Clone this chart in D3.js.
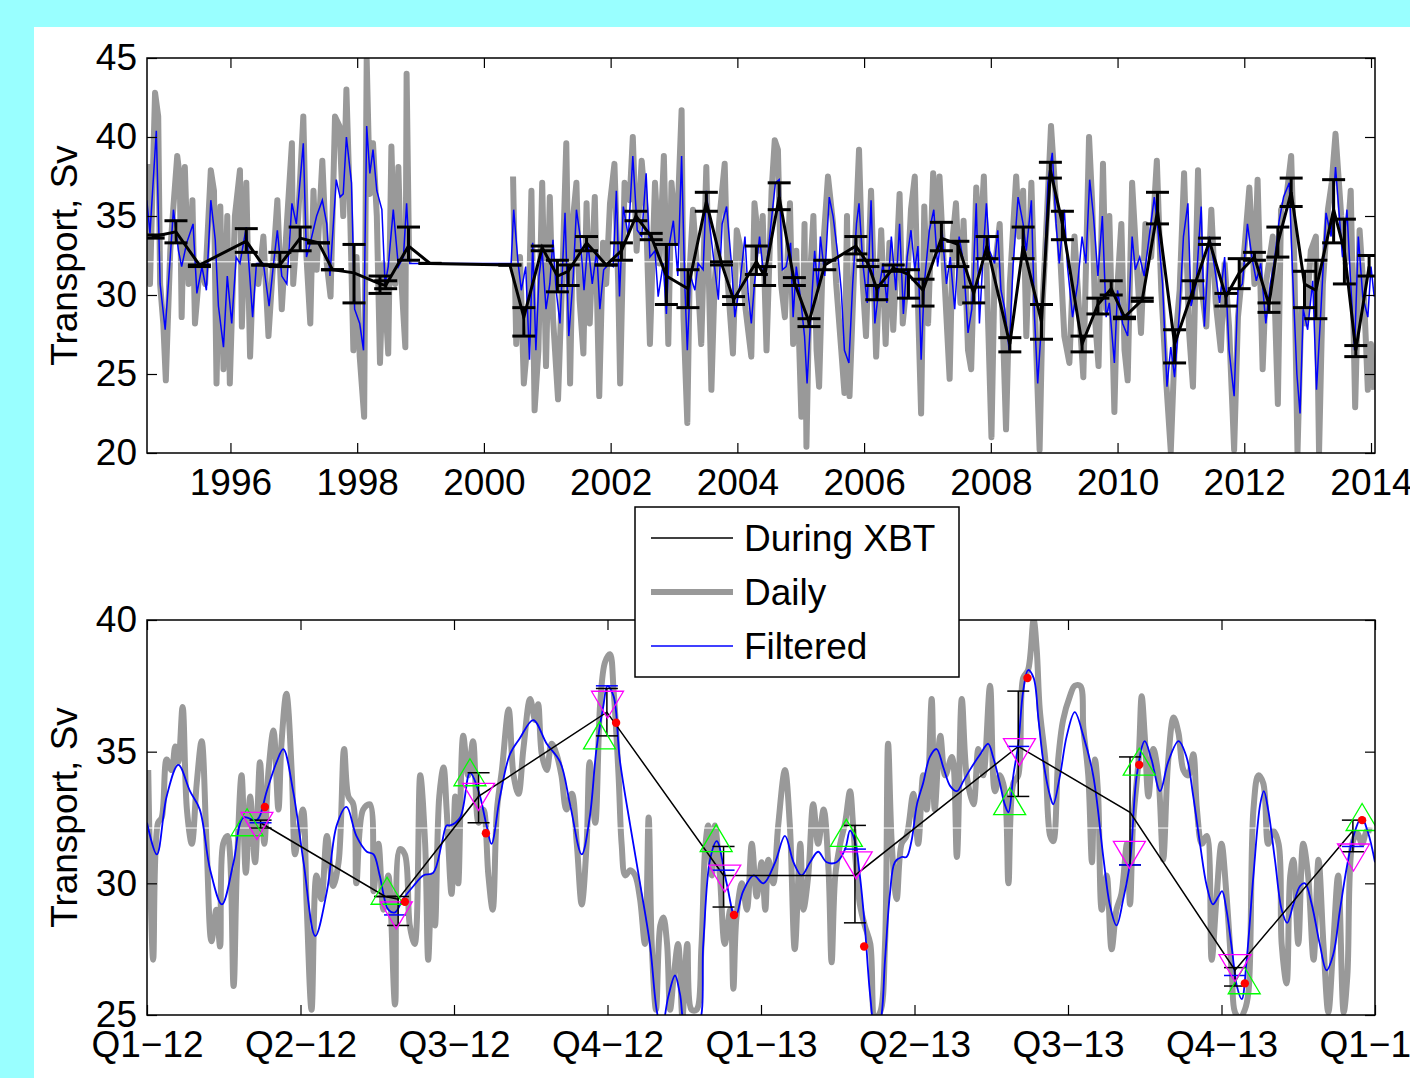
<!DOCTYPE html>
<html>
<head>
<meta charset="utf-8">
<script src="https://cdn.jsdelivr.net/npm/d3@7"></script>
<style>
  html, body { margin: 0; padding: 0; background: #99ffff; }
  svg { display: block; font-family: "Liberation Sans", Arial, Helvetica, sans-serif; }
</style>
</head>
<body>
<svg id="chart" width="1410" height="1078"></svg>
<script>
// ---- data (decimal years, Sv) ----
const topYearTicks = [1996, 1998, 2000, 2002, 2004, 2006, 2008, 2010, 2012, 2014];
const topValueTicks = [20, 25, 30, 35, 40, 45];
const botValueTicks = [25, 30, 35, 40];
const quarterTicks = [2012, 2012.25, 2012.5, 2012.75, 2013, 2013.25, 2013.5, 2013.75, 2014];
const quarterLabels = ['Q1−12', 'Q2−12', 'Q3−12', 'Q4−12', 'Q1−13', 'Q2−13', 'Q3−13', 'Q4−13', 'Q1−14'];
const meanTransport = 32.1;

// top panel: daily transport (null = no data gap)
const dailyTop = [
  [1994.70,38.3],[1994.73,30.7],[1994.81,42.8],[1994.86,41.3],[1994.89,30.7],[1994.94,28.2],[1994.98,24.6],[1995.05,32.8],[1995.10,35.6],[1995.16,38.8],
  [1995.20,37.5],[1995.23,28.6],[1995.28,38.1],[1995.34,30.7],[1995.40,36.0],[1995.44,28.2],[1995.52,32.0],[1995.60,30.7],[1995.69,37.9],[1995.74,36.6],
  [1995.78,24.4],[1995.84,35.6],[1995.89,25.3],[1995.95,35.0],[1995.99,24.4],[1996.07,35.0],[1996.15,37.9],[1996.18,28.0],[1996.25,37.1],[1996.31,26.1],
  [1996.36,31.8],[1996.44,30.7],[1996.52,33.7],[1996.60,27.4],[1996.67,31.8],[1996.74,36.0],[1996.81,29.1],[1996.89,34.5],[1996.97,39.6],[1996.99,30.7],
  [1997.07,35.0],[1997.15,41.3],[1997.20,32.4],[1997.26,28.2],[1997.31,36.6],[1997.36,31.6],[1997.45,38.5],[1997.52,32.0],[1997.58,29.9],[1997.65,41.3],
  [1997.72,40.7],[1997.78,35.0],[1997.83,43.0],[1997.89,35.0],[1997.94,26.5],[1997.99,32.4],[1998.04,26.1],[1998.11,22.3],[1998.15,44.9],[1998.20,36.4],
  [1998.25,39.6],[1998.31,35.0],[1998.36,25.7],[1998.41,32.0],[1998.49,26.3],[1998.54,39.4],[1998.60,30.7],[1998.65,38.1],[1998.70,30.7],[1998.76,26.7],
  [1998.78,44.0],[1998.82,32.0],[1998.83,null],
  [2000.46,37.5],[2000.51,26.9],[2000.57,32.4],[2000.63,24.4],[2000.70,27.6],[2000.75,36.6],[2000.80,22.7],[2000.86,26.5],[2000.92,37.1],[2000.98,25.5],
  [2001.04,36.2],[2001.09,28.6],[2001.17,23.4],[2001.25,32.8],[2001.30,39.6],[2001.36,24.4],[2001.41,35.0],[2001.46,37.1],[2001.51,29.7],[2001.57,26.3],
  [2001.62,35.8],[2001.67,28.2],[2001.75,36.2],[2001.82,23.6],[2001.88,33.3],[2001.93,30.7],[2001.99,35.8],[2002.06,38.3],[2002.12,30.7],[2002.15,24.4],
  [2002.22,37.1],[2002.30,36.0],[2002.35,40.0],[2002.41,32.8],[2002.49,38.5],[2002.56,35.0],[2002.62,26.9],[2002.70,37.1],[2002.77,32.0],[2002.84,38.8],
  [2002.91,26.9],[2002.96,37.1],[2003.04,33.3],[2003.12,41.7],[2003.15,28.6],[2003.21,21.9],[2003.25,31.8],[2003.30,35.4],[2003.38,30.7],[2003.43,26.9],
  [2003.51,38.1],[2003.59,24.0],[2003.64,30.7],[2003.72,35.0],[2003.80,38.3],[2003.85,30.7],[2003.93,26.3],[2003.99,34.1],[2004.06,32.8],[2004.13,29.1],
  [2004.22,26.1],[2004.27,35.8],[2004.35,32.8],[2004.40,35.0],[2004.46,26.5],[2004.54,36.6],[2004.59,39.8],[2004.64,39.2],[2004.69,30.7],[2004.75,28.6],
  [2004.83,35.8],[2004.88,26.9],[2004.93,32.8],[2005.01,22.3],[2005.06,34.5],[2005.09,20.4],[2005.14,30.7],[2005.20,35.0],[2005.25,26.5],[2005.29,24.2],
  [2005.35,32.8],[2005.43,37.5],[2005.51,34.5],[2005.56,30.7],[2005.64,26.5],[2005.69,23.8],[2005.73,35.0],[2005.77,23.6],[2005.85,32.4],[2005.92,39.2],
  [2005.98,30.7],[2006.03,27.4],[2006.11,36.6],[2006.19,26.1],[2006.27,34.1],[2006.34,26.9],[2006.40,33.3],[2006.46,27.8],[2006.51,32.0],[2006.56,36.4],
  [2006.61,28.2],[2006.69,31.6],[2006.74,35.4],[2006.80,37.5],[2006.85,29.5],[2006.90,22.5],[2006.95,35.6],[2007.01,28.2],[2007.09,37.7],[2007.14,32.8],
  [2007.19,37.5],[2007.27,30.9],[2007.35,24.7],[2007.40,33.7],[2007.45,35.8],[2007.52,29.5],[2007.57,34.7],[2007.64,26.5],[2007.69,25.3],[2007.77,36.8],
  [2007.82,32.4],[2007.89,37.5],[2007.97,26.5],[2008.01,21.0],[2008.06,31.6],[2008.14,34.5],[2008.24,21.5],[2008.30,30.7],[2008.40,37.5],[2008.45,33.7],
  [2008.51,36.6],[2008.56,27.4],[2008.64,37.1],[2008.72,26.1],[2008.77,20.2],[2008.82,29.7],[2008.89,35.4],[2008.95,40.7],[2009.03,35.8],[2009.08,33.7],
  [2009.16,27.4],[2009.24,25.7],[2009.32,33.7],[2009.40,28.6],[2009.46,24.8],[2009.55,40.0],[2009.60,35.8],[2009.65,28.2],[2009.70,25.5],[2009.77,38.3],
  [2009.82,29.1],[2009.87,35.0],[2009.95,22.6],[2010.00,30.7],[2010.06,34.5],[2010.11,26.5],[2010.16,24.6],[2010.23,37.1],[2010.29,32.8],[2010.37,27.6],
  [2010.44,34.5],[2010.53,32.4],[2010.62,38.5],[2010.69,30.3],[2010.77,24.4],[2010.84,20.1],[2010.90,26.5],[2010.98,30.3],[2011.05,37.7],[2011.13,27.6],
  [2011.19,24.2],[2011.27,37.9],[2011.32,30.7],[2011.40,28.0],[2011.48,35.4],[2011.55,29.5],[2011.63,26.5],[2011.69,32.0],[2011.76,28.0],[2011.84,20.2],
  [2011.90,28.6],[2012.00,32.8],[2012.08,36.8],[2012.16,30.7],[2012.21,37.3],[2012.29,25.3],[2012.34,30.7],[2012.45,33.7],[2012.53,23.1],[2012.58,35.4],
  [2012.66,36.0],[2012.74,38.8],[2012.79,32.0],[2012.84,20.0],[2012.90,29.1],[2012.97,28.2],[2013.05,32.8],[2013.13,33.7],[2013.18,20.0],[2013.24,30.7],
  [2013.32,35.4],[2013.38,37.1],[2013.44,40.2],[2013.53,35.0],[2013.60,32.0],[2013.68,36.6],[2013.75,22.9],[2013.82,34.1],[2013.89,29.9],[2013.95,24.0],
  [2014.00,26.9],[2014.05,24.0]
];

// top panel: filtered transport
const filteredTop = [
  [1994.68,36.0],[1994.73,33.9],[1994.83,40.4],[1994.89,30.7],[1994.97,27.8],[1995.05,32.4],[1995.10,35.4],[1995.18,32.8],[1995.23,31.8],[1995.31,33.3],
  [1995.41,34.5],[1995.47,30.1],[1995.55,31.8],[1995.62,30.3],[1995.69,36.0],[1995.76,33.5],[1995.81,29.3],[1995.89,26.7],[1995.95,31.2],[1996.02,28.2],
  [1996.09,32.4],[1996.15,32.0],[1996.25,34.3],[1996.35,28.6],[1996.41,32.0],[1996.52,32.0],[1996.61,29.3],[1996.67,31.6],[1996.74,34.1],[1996.81,31.2],
  [1996.89,30.7],[1996.97,35.8],[1997.04,34.5],[1997.15,39.6],[1997.20,32.4],[1997.26,33.3],[1997.36,35.0],[1997.45,36.0],[1997.52,34.5],[1997.57,31.2],
  [1997.67,37.3],[1997.73,36.2],[1997.78,36.4],[1997.83,40.0],[1997.91,37.1],[1997.96,29.1],[1998.04,28.2],[1998.10,26.5],[1998.15,40.7],[1998.20,37.7],
  [1998.25,39.2],[1998.31,36.6],[1998.39,35.4],[1998.44,30.7],[1998.49,31.8],[1998.57,35.4],[1998.65,31.8],[1998.73,32.4],[1998.78,35.8],[1998.83,32.0],
  [2000.43,32.0],[2000.47,35.4],[2000.54,32.0],[2000.59,30.3],[2000.66,31.8],[2000.72,25.9],[2000.77,33.3],[2000.82,26.5],[2000.87,31.2],[2000.92,32.8],
  [2000.98,29.1],[2001.04,30.7],[2001.09,33.5],[2001.14,30.3],[2001.20,28.2],[2001.28,35.2],[2001.34,27.4],[2001.41,31.2],[2001.46,35.4],[2001.52,33.7],
  [2001.58,30.3],[2001.64,33.3],[2001.71,30.7],[2001.78,32.8],[2001.83,29.1],[2001.89,31.6],[2001.98,32.0],[2002.04,31.8],[2002.09,36.6],[2002.14,29.9],
  [2002.20,35.6],[2002.28,33.7],[2002.35,38.8],[2002.42,34.1],[2002.49,33.7],[2002.56,37.7],[2002.62,32.4],[2002.70,32.8],[2002.75,29.9],[2002.83,32.0],
  [2002.88,28.8],[2002.93,33.3],[2002.99,34.7],[2003.06,31.2],[2003.12,38.8],[2003.17,30.7],[2003.21,26.5],[2003.26,31.2],[2003.33,30.3],[2003.38,32.0],
  [2003.46,31.6],[2003.51,36.6],[2003.56,34.5],[2003.64,31.8],[2003.70,29.7],[2003.76,34.5],[2003.83,35.6],[2003.91,31.8],[2003.96,28.6],[2004.04,30.7],
  [2004.12,33.7],[2004.17,30.1],[2004.22,28.2],[2004.27,30.7],[2004.35,33.7],[2004.43,30.7],[2004.51,33.7],[2004.60,37.1],[2004.66,37.3],[2004.71,31.6],
  [2004.77,31.8],[2004.84,33.3],[2004.88,28.6],[2004.93,31.8],[2005.00,29.7],[2005.06,27.4],[2005.10,24.4],[2005.17,29.5],[2005.22,32.8],[2005.27,30.3],
  [2005.31,33.7],[2005.38,31.2],[2005.45,36.2],[2005.51,35.0],[2005.59,32.4],[2005.64,30.3],[2005.69,26.5],[2005.76,25.7],[2005.82,30.7],[2005.88,34.5],
  [2005.92,35.8],[2005.98,32.0],[2006.05,29.5],[2006.11,36.0],[2006.17,28.2],[2006.23,30.3],[2006.30,32.0],[2006.36,29.5],[2006.43,33.7],[2006.50,30.3],
  [2006.56,34.5],[2006.62,28.8],[2006.68,32.4],[2006.74,34.1],[2006.80,31.6],[2006.85,33.1],[2006.90,25.9],[2006.95,30.7],[2007.03,34.1],[2007.10,35.4],
  [2007.16,31.8],[2007.23,34.1],[2007.30,30.7],[2007.36,32.4],[2007.43,29.1],[2007.50,33.7],[2007.57,32.0],[2007.64,27.6],[2007.70,29.1],[2007.77,35.8],
  [2007.82,28.2],[2007.89,33.3],[2007.93,35.8],[2007.98,32.8],[2008.06,32.0],[2008.11,34.1],[2008.16,30.3],[2008.22,29.1],[2008.29,26.5],[2008.35,31.8],
  [2008.43,36.2],[2008.51,34.5],[2008.56,32.8],[2008.64,36.0],[2008.69,28.6],[2008.74,24.4],[2008.80,28.2],[2008.85,32.0],[2008.90,37.1],[2008.97,39.0],
  [2009.03,34.5],[2009.08,32.0],[2009.16,35.4],[2009.21,31.8],[2009.29,28.6],[2009.37,30.7],[2009.44,33.7],[2009.50,32.0],[2009.56,37.3],[2009.62,35.0],
  [2009.69,31.2],[2009.76,35.0],[2009.82,28.6],[2009.87,29.5],[2009.95,25.7],[2010.00,30.3],[2010.08,28.2],[2010.16,27.4],[2010.23,33.7],[2010.28,31.6],
  [2010.35,32.4],[2010.42,31.2],[2010.50,33.7],[2010.58,36.2],[2010.63,34.5],[2010.71,30.7],[2010.78,24.2],[2010.84,26.7],[2010.90,24.8],[2010.98,29.1],
  [2011.04,33.7],[2011.11,35.8],[2011.16,29.3],[2011.24,30.7],[2011.32,35.6],[2011.37,28.0],[2011.45,33.7],[2011.53,31.8],[2011.61,29.5],[2011.69,32.4],
  [2011.76,26.5],[2011.84,23.6],[2011.90,30.3],[2011.97,30.7],[2012.05,34.5],[2012.12,32.4],[2012.19,30.9],[2012.26,32.0],[2012.34,28.2],[2012.41,30.7],
  [2012.47,32.0],[2012.55,34.7],[2012.62,36.2],[2012.71,37.1],[2012.76,31.6],[2012.83,25.0],[2012.88,22.5],[2012.93,29.1],[2013.00,27.8],[2013.08,30.9],
  [2013.14,24.0],[2013.21,29.1],[2013.29,35.2],[2013.37,33.7],[2013.44,38.1],[2013.50,35.0],[2013.55,32.4],[2013.62,35.4],[2013.68,30.7],[2013.74,26.5],
  [2013.80,33.7],[2013.87,29.9],[2013.95,28.6],[2014.00,31.8],[2014.05,29.9]
];

// top panel: transport during XBT transects [time, value, low, high]
const xbtTop = [
  [1994.78,33.7,33.6,33.8],[1995.14,34.0,33.3,34.7],[1995.51,31.9,31.8,31.9],[1996.25,33.4,32.7,34.2],[1996.51,31.9,31.9,31.9],
  [1996.78,31.9,31.8,32.7],[1997.10,33.6,32.8,34.3],[1997.39,33.3,33.3,33.3],[1997.61,31.6,31.6,31.6],[1997.95,31.4,29.5,33.2],
  [1998.36,30.7,30.1,31.2],[1998.45,30.6,30.4,30.9],[1998.81,33.1,32.2,34.3],[1999.15,32.0,32.0,32.0],[2000.41,31.9,31.9,31.9],
  [2000.63,28.6,27.4,29.2],[2000.92,33.0,32.8,33.1],[2001.16,31.2,30.2,32.2],[2001.33,31.5,30.6,31.9],[2001.62,33.3,32.8,33.7],
  [2001.93,31.9,31.9,31.9],[2002.17,32.8,32.2,33.3],[2002.40,35.0,34.7,35.3],[2002.64,33.7,33.5,33.9],[2002.88,31.2,29.4,33.2],
  [2003.22,30.4,29.2,31.6],[2003.51,35.9,35.3,36.5],[2003.75,32.0,31.9,32.1],[2003.94,29.7,29.4,29.9],[2004.30,32.1,31.3,33.1],
  [2004.43,31.2,30.6,31.8],[2004.66,36.2,35.4,37.1],[2004.90,30.8,30.6,31.1],[2005.13,28.3,28.0,28.5],[2005.38,31.9,31.6,32.2],
  [2005.87,33.1,32.6,33.7],[2006.06,32.0,31.8,32.2],[2006.20,30.4,29.7,30.6],[2006.46,31.7,31.5,31.9],[2006.70,31.3,29.8,31.6],
  [2006.93,30.3,29.3,31.0],[2007.22,33.6,32.8,34.6],[2007.48,33.2,31.8,33.4],[2007.73,30.1,29.5,30.5],[2007.94,33.1,32.3,33.7],
  [2008.30,26.9,26.4,27.3],[2008.51,33.1,32.3,34.3],[2008.80,28.3,27.2,29.4],[2008.94,37.9,37.4,38.4],[2009.13,34.5,33.5,35.3],
  [2009.44,26.9,26.4,27.4],[2009.69,29.4,28.8,29.8],[2009.90,30.4,30.0,30.9],[2010.11,28.6,28.5,28.6],[2010.39,29.7,29.6,29.8],
  [2010.63,35.3,34.5,36.5],[2010.90,26.9,25.7,27.8],[2011.19,30.3,29.8,30.9],[2011.45,33.4,33.2,33.6],[2011.71,29.9,29.3,30.1],
  [2011.92,31.4,30.4,32.3],[2012.16,32.4,32.2,32.7],[2012.39,29.4,28.9,29.5],[2012.53,33.3,32.4,34.3],[2012.74,36.5,35.6,37.4],
  [2012.95,30.7,29.2,31.5],[2013.13,30.3,28.5,32.2],[2013.41,35.4,33.3,37.3],[2013.58,32.8,30.7,34.8],[2013.76,26.5,26.1,26.8],
  [2013.97,31.8,31.2,32.5]
];

// bottom panel: daily transport 2012-2013
const dailyBot = [
  [2012.002,34.3],[2012.010,27.1],[2012.018,32.3],[2012.024,32.5],[2012.032,34.7],[2012.040,34.3],[2012.046,35.2],[2012.051,34.6],[2012.058,36.7],[2012.065,32.8],
  [2012.073,31.5],[2012.081,33.8],[2012.089,35.4],[2012.097,31.5],[2012.105,27.8],[2012.113,29.0],[2012.119,27.6],[2012.124,31.5],[2012.131,31.8],[2012.141,26.1],
  [2012.146,30.3],[2012.154,34.1],[2012.161,30.4],[2012.168,33.3],[2012.176,30.8],[2012.184,34.6],[2012.191,31.5],[2012.198,34.3],[2012.206,35.8],[2012.214,32.8],
  [2012.219,35.3],[2012.227,37.2],[2012.236,34.1],[2012.241,31.1],[2012.246,31.8],[2012.254,32.8],[2012.260,29.2],[2012.268,25.2],[2012.276,30.3],[2012.284,29.4],
  [2012.293,31.8],[2012.303,29.9],[2012.312,30.8],[2012.321,35.1],[2012.328,33.3],[2012.336,33.0],[2012.341,30.0],[2012.352,32.8],[2012.363,33.0],[2012.369,29.7],
  [2012.377,31.5],[2012.385,29.0],[2012.393,30.3],[2012.404,25.4],[2012.412,31.3],[2012.420,31.1],[2012.428,28.4],[2012.436,27.7],[2012.445,34.1],[2012.453,31.5],
  [2012.458,27.1],[2012.464,30.3],[2012.469,28.4],[2012.476,33.3],[2012.483,34.4],[2012.488,32.8],[2012.496,29.6],
  [2012.502,33.3],[2012.507,30.0],[2012.515,35.6],[2012.523,34.1],[2012.531,35.4],[2012.540,32.3],[2012.548,32.8],[2012.556,30.3],[2012.563,29.0],[2012.570,32.8],
  [2012.578,34.3],[2012.589,36.6],[2012.597,34.1],[2012.605,33.4],[2012.613,35.1],[2012.624,37.0],[2012.632,36.2],[2012.637,36.8],[2012.643,34.9],[2012.651,34.3],
  [2012.659,35.3],[2012.667,34.9],[2012.675,34.1],[2012.683,32.8],[2012.692,33.4],[2012.700,31.5],[2012.708,29.2],[2012.716,31.5],[2012.721,34.6],[2012.730,32.3],
  [2012.738,36.8],[2012.746,38.4],[2012.754,38.7],[2012.760,37.3],[2012.768,34.1],[2012.773,31.5],[2012.779,30.3],[2012.787,30.5],[2012.795,30.3],[2012.803,29.4],
  [2012.811,27.7],[2012.817,32.5],[2012.822,27.7],[2012.829,25.2],[2012.836,28.4],[2012.841,28.7],[2012.847,27.7],[2012.852,25.2],[2012.858,26.5],[2012.865,27.7],
  [2012.872,24.9],[2012.876,26.5],[2012.880,27.7],[2012.887,25.2],[2012.895,25.2],[2012.903,27.6],[2012.909,31.3],[2012.914,32.2],[2012.920,30.3],[2012.925,32.2],
  [2012.933,30.3],[2012.941,27.7],[2012.950,29.0],[2012.955,26.0],[2012.960,28.7],[2012.969,30.0],[2012.977,29.0],[2012.985,31.5],[2012.993,29.5],[2013.001,30.8],
  [2013.007,29.0],[2013.012,30.9],[2013.020,30.0],[2013.028,32.2],[2013.039,34.3],[2013.047,32.2],[2013.055,27.5],[2013.064,31.5],[2013.069,29.0],[2013.077,30.3],
  [2013.085,33.0],[2013.093,31.5],[2013.102,32.8],[2013.110,30.5],[2013.115,27.0],[2013.121,30.3],[2013.129,31.5],[2013.137,32.3],[2013.145,33.5],[2013.150,32.2],
  [2013.156,30.3],[2013.161,29.2],[2013.169,28.4],[2013.178,27.7],[2013.186,24.9],[2013.194,25.1],[2013.202,27.7],[2013.207,35.3],[2013.213,31.5],[2013.221,29.4],
  [2013.229,31.5],[2013.237,31.8],[2013.248,33.4],[2013.256,31.5],[2013.264,34.1],[2013.270,32.8],[2013.278,37.0],[2013.283,32.8],[2013.292,35.6],[2013.300,34.1],
  [2013.311,34.8],[2013.319,31.0],[2013.327,37.0],[2013.335,34.1],[2013.346,33.0],[2013.354,35.1],[2013.362,34.1],[2013.373,37.5],[2013.381,33.5],[2013.389,34.1],
  [2013.397,33.5],[2013.403,30.0],[2013.411,33.8],[2013.419,34.1],[2013.427,37.8],[2013.435,38.1],[2013.444,40.0],[2013.449,38.9],[2013.454,36.6],[2013.463,34.7],
  [2013.471,31.8],[2013.476,31.6],[2013.484,34.7],[2013.492,36.2],[2013.503,37.1],[2013.511,37.5],
  [2013.520,37.5],[2013.525,35.9],[2013.533,34.1],[2013.539,30.8],[2013.544,34.7],[2013.549,33.4],[2013.555,29.0],[2013.563,30.3],[2013.571,27.5],[2013.579,29.0],
  [2013.587,29.6],[2013.596,31.5],[2013.601,29.2],[2013.606,32.3],[2013.615,34.7],[2013.620,37.1],[2013.625,35.6],[2013.631,33.3],[2013.639,35.1],[2013.647,34.1],
  [2013.655,30.9],[2013.663,34.6],[2013.672,36.3],[2013.680,35.7],[2013.688,34.3],[2013.696,34.1],[2013.704,34.9],[2013.710,32.8],[2013.718,31.5],[2013.726,31.8],
  [2013.734,27.1],[2013.742,29.5],[2013.750,31.5],[2013.758,29.6],[2013.767,26.5],[2013.772,25.1],[2013.780,24.9],[2013.788,25.2],[2013.794,25.9],[2013.802,32.8],
  [2013.810,34.1],[2013.818,33.8],[2013.826,31.5],[2013.834,32.0],[2013.843,31.5],[2013.848,27.7],[2013.856,26.2],[2013.862,30.3],[2013.867,30.9],[2013.875,27.7],
  [2013.883,31.5],[2013.891,30.3],[2013.900,27.1],[2013.908,30.9],[2013.916,27.7],[2013.924,25.1],[2013.932,27.7],[2013.940,30.3],[2013.949,25.1],[2013.955,26.5],
  [2013.963,31.5],[2013.971,31.9],[2013.979,31.5],[2013.987,32.0],[2013.995,32.0]
];

// bottom panel: filtered transport
const filteredBot = [
  [2012.000,32.3],[2012.016,31.1],[2012.032,33.3],[2012.051,34.5],[2012.070,33.5],[2012.086,32.8],[2012.103,30.5],[2012.122,29.2],[2012.141,30.8],[2012.157,32.5],
  [2012.179,32.4],[2012.195,33.5],[2012.211,34.6],[2012.222,35.1],[2012.238,33.5],[2012.255,30.8],[2012.274,28.0],[2012.293,29.7],[2012.309,32.2],[2012.325,32.9],
  [2012.341,31.8],[2012.358,31.2],[2012.369,31.1],[2012.379,30.3],[2012.393,29.0],[2012.404,28.9],[2012.417,29.4],[2012.434,29.9],[2012.450,30.3],[2012.466,30.4],
  [2012.480,31.5],[2012.488,32.2],[2012.494,32.2],[2012.510,32.5],[2012.526,34.2],[2012.540,33.5],[2012.553,32.2],[2012.561,31.5],[2012.575,33.3],[2012.591,34.9],
  [2012.607,35.5],[2012.629,36.2],[2012.651,35.3],[2012.673,34.6],[2012.689,33.0],[2012.708,31.1],[2012.721,32.5],[2012.732,35.1],[2012.743,36.7],[2012.750,37.5],
  [2012.760,37.1],[2012.770,34.7],[2012.787,32.2],[2012.803,30.0],[2012.819,27.7],[2012.830,25.2],[2012.838,24.4],[2012.849,25.7],[2012.860,26.5],[2012.868,25.8],
  [2012.879,24.3],[2012.898,24.6],[2012.906,27.7],[2012.917,30.9],[2012.928,31.6],[2012.944,30.0],[2012.958,28.7],[2012.971,29.7],[2012.988,30.3],[2013.004,30.0],
  [2013.023,30.8],[2013.039,31.8],[2013.053,30.8],[2013.066,30.3],[2013.080,30.8],[2013.093,31.2],[2013.107,30.8],[2013.123,30.8],[2013.137,31.3],[2013.145,32.0],
  [2013.153,31.6],[2013.161,30.3],[2013.169,28.4],[2013.178,25.7],[2013.186,24.4],[2013.194,24.7],[2013.202,27.1],[2013.210,29.6],[2013.218,30.8],[2013.229,31.0],
  [2013.237,31.0],[2013.245,31.6],[2013.254,33.0],[2013.264,33.8],[2013.275,34.8],[2013.286,35.1],[2013.297,34.4],[2013.308,33.7],[2013.319,33.5],[2013.330,33.9],
  [2013.340,34.3],[2013.357,34.9],[2013.370,35.3],[2013.378,34.8],[2013.389,33.8],[2013.397,33.0],[2013.403,32.7],[2013.411,34.1],[2013.419,35.3],[2013.427,37.3],
  [2013.435,38.1],[2013.444,37.8],[2013.452,36.2],[2013.460,34.6],[2013.471,33.3],[2013.476,33.0],[2013.487,34.1],[2013.498,35.6],[2013.511,36.5],[2013.525,35.6],
  [2013.541,34.1],[2013.558,30.9],[2013.568,29.2],[2013.579,28.4],[2013.590,29.4],[2013.601,30.8],[2013.612,34.1],[2013.625,35.4],[2013.636,34.7],[2013.650,33.5],
  [2013.663,34.6],[2013.680,35.4],[2013.693,34.8],[2013.704,33.3],[2013.715,31.5],[2013.726,29.9],[2013.736,29.2],[2013.745,29.5],[2013.751,29.7],[2013.758,29.0],
  [2013.767,27.5],[2013.775,26.1],[2013.783,25.6],[2013.791,27.1],[2013.802,30.3],[2013.813,33.0],[2013.819,33.5],[2013.826,32.8],[2013.837,30.9],[2013.848,29.0],
  [2013.857,28.5],[2013.867,29.2],[2013.878,29.9],[2013.886,30.0],[2013.897,29.2],[2013.910,27.7],[2013.921,26.7],[2013.932,27.3],[2013.943,29.0],[2013.954,30.6],
  [2013.965,31.8],[2013.978,32.5],[2013.989,31.9],[2014.000,30.8]
];

// bottom panel: XBT transects [time, value, low, high]
const xbtBot = [
  [2012.185,32.3,32.1,32.4],[2012.388,29.5,29.5,29.5],[2012.409,29.4,28.4,29.5],[2012.540,33.3,32.3,34.2],[2012.749,36.5,35.6,37.4],
  [2012.939,30.3,29.1,31.4],[2013.153,30.3,28.5,32.2],[2013.419,35.2,33.3,37.3],[2013.601,32.7,30.7,34.8],[2013.772,26.7,26.1,26.8],
  [2013.964,32.0,31.2,32.4]
];
const filteredAtXbt = [[2012.185,32.3],[2012.404,28.8],[2012.749,37.5],[2012.939,30.5],[2013.153,31.3],[2013.419,35.2],[2013.601,30.7],[2013.772,26.5],[2013.964,31.4]];
const estimateUp = [[2012.163,32.3],[2012.391,29.7],[2012.526,34.2],[2012.737,35.6],[2012.927,31.7],[2013.139,31.9],[2013.405,33.1],[2013.616,34.6],[2013.787,26.3],[2013.979,32.5]];
const estimateDown = [[2012.179,32.2],[2012.406,28.8],[2012.540,33.3],[2012.750,36.8],[2012.941,30.2],[2013.155,30.7],[2013.421,35.0],[2013.600,31.1],[2013.772,26.8],[2013.965,31.0]];
const estimateDot = [[2012.192,32.9],[2012.420,29.3],[2012.552,31.9],[2012.764,36.1],[2012.956,28.8],[2013.168,27.6],[2013.434,37.8],[2013.616,34.5],[2013.788,26.2],[2013.979,32.4]];

const legendItems = [
  { label: 'During XBT', color: '#000', width: 1.5 },
  { label: 'Daily', color: '#999', width: 6 },
  { label: 'Filtered', color: '#0000ff', width: 1.5 }
];

// ---- layout ----
const W = 1410, H = 1078;
const FONT = 37;
const svg = d3.select('#chart');
svg.append('rect').attr('width', W).attr('height', H).attr('fill', '#99ffff');
svg.append('rect').attr('x', 34).attr('y', 27).attr('width', W - 34).attr('height', H - 27).attr('fill', '#fff');

const boxTop = { x0: 147, x1: 1375, y0: 58, y1: 453 };
const boxBot = { x0: 147, x1: 1375, y0: 620, y1: 1015 };

const xTop = d3.scaleLinear().domain([1994.683, 2014.063]).range([boxTop.x0, boxTop.x1]);
const yTop = d3.scaleLinear().domain([20, 45]).range([boxTop.y1, boxTop.y0]);
const xBot = d3.scaleLinear().domain([2012, 2014]).range([boxBot.x0, boxBot.x1]);
const yBot = d3.scaleLinear().domain([25, 40]).range([boxBot.y1, boxBot.y0]);

const defs = svg.append('defs');
function clip(id, b) {
  defs.append('clipPath').attr('id', id).append('rect')
    .attr('x', b.x0).attr('y', b.y0).attr('width', b.x1 - b.x0).attr('height', b.y1 - b.y0);
  return svg.append('g').attr('clip-path', `url(#${id})`);
}

function lineFor(x, y, curve) {
  return d3.line().defined(d => d[1] != null).x(d => x(d[0])).y(d => y(d[1])).curve(curve || d3.curveLinear);
}

function errorBars(g, rows, x, y, capW, sw) {
  const eb = g.append('g').attr('stroke', '#000').attr('stroke-width', sw).attr('fill', 'none');
  rows.forEach(r => {
    const cx = x(r[0]);
    eb.append('line').attr('x1', cx).attr('x2', cx).attr('y1', y(r[2])).attr('y2', y(r[3]));
    [r[2], r[3]].forEach(v => eb.append('line')
      .attr('x1', cx - capW / 2).attr('x2', cx + capW / 2).attr('y1', y(v)).attr('y2', y(v)));
  });
}

function meanLine(g, x, y) {
  g.append('line').attr('x1', x.range()[0]).attr('x2', x.range()[1])
    .attr('y1', y(meanTransport)).attr('y2', y(meanTransport))
    .attr('stroke', '#fff').attr('stroke-width', 1);
}

function axes(b, x, y, xTicks, xFmt, yTicks) {
  const style = sel => {
    sel.select('.domain').remove();
    sel.selectAll('.tick line').attr('stroke', '#000').attr('stroke-width', 1.2);
    sel.selectAll('.tick text').attr('fill', '#000').attr('font-size', FONT);
  };
  svg.append('g').attr('transform', `translate(0,${b.y1})`)
    .call(d3.axisBottom(x).tickValues(xTicks).tickFormat(xFmt).tickSizeInner(-10).tickSizeOuter(0).tickPadding(16))
    .call(style).attr('font-family', null);
  svg.append('g').attr('transform', `translate(0,${b.y0})`)
    .call(d3.axisTop(x).tickValues(xTicks).tickFormat('').tickSizeInner(-10).tickSizeOuter(0))
    .call(style).attr('font-family', null);
  svg.append('g').attr('transform', `translate(${b.x0},0)`)
    .call(d3.axisLeft(y).tickValues(yTicks).tickFormat(d3.format('d')).tickSizeInner(-10).tickSizeOuter(0).tickPadding(10))
    .call(style).attr('font-family', null);
  svg.append('g').attr('transform', `translate(${b.x1},0)`)
    .call(d3.axisRight(y).tickValues(yTicks).tickFormat('').tickSizeInner(-10).tickSizeOuter(0))
    .call(style).attr('font-family', null);
  svg.append('rect').attr('x', b.x0).attr('y', b.y0).attr('width', b.x1 - b.x0).attr('height', b.y1 - b.y0)
    .attr('fill', 'none').attr('stroke', '#000').attr('stroke-width', 1.5);
  svg.append('text')
    .attr('transform', `translate(77,${(b.y0 + b.y1) / 2}) rotate(-90)`)
    .attr('text-anchor', 'middle').attr('font-size', FONT).attr('fill', '#000')
    .text('Transport, Sv');
}

// ---- top panel ----
const gTop = clip('clipTop', boxTop);
gTop.append('path').datum(dailyTop).attr('d', lineFor(xTop, yTop))
  .attr('fill', 'none').attr('stroke', '#999').attr('stroke-width', 6).attr('stroke-linejoin', 'round');
meanLine(gTop, xTop, yTop);
gTop.append('path').datum(filteredTop).attr('d', lineFor(xTop, yTop))
  .attr('fill', 'none').attr('stroke', '#0000ff').attr('stroke-width', 1.5);
gTop.append('path').datum(xbtTop.map(r => [r[0], r[1]])).attr('d', lineFor(xTop, yTop))
  .attr('fill', 'none').attr('stroke', '#000').attr('stroke-width', 3);
errorBars(gTop, xbtTop, xTop, yTop, 23, 3);
axes(boxTop, xTop, yTop, topYearTicks, d3.format('d'), topValueTicks);

// ---- bottom panel ----
const gBot = clip('clipBot', boxBot);
gBot.append('path').datum(dailyBot).attr('d', lineFor(xBot, yBot, d3.curveCatmullRom))
  .attr('fill', 'none').attr('stroke', '#999').attr('stroke-width', 6).attr('stroke-linejoin', 'round');
meanLine(gBot, xBot, yBot);
gBot.append('path').datum(filteredBot).attr('d', lineFor(xBot, yBot, d3.curveCatmullRom))
  .attr('fill', 'none').attr('stroke', '#0000ff').attr('stroke-width', 1.8);
gBot.append('path').datum(xbtBot.map(r => [r[0], r[1]])).attr('d', lineFor(xBot, yBot))
  .attr('fill', 'none').attr('stroke', '#000').attr('stroke-width', 1.5);
errorBars(gBot, xbtBot, xBot, yBot, 22, 1.5);
gBot.selectAll('line.fcap').data(filteredAtXbt).join('line').attr('class', 'fcap')
  .attr('x1', d => xBot(d[0]) - 11).attr('x2', d => xBot(d[0]) + 11)
  .attr('y1', d => yBot(d[1])).attr('y2', d => yBot(d[1]))
  .attr('stroke', '#0000ff').attr('stroke-width', 1.5);
gBot.selectAll('path.up').data(estimateUp).join('path').attr('class', 'up')
  .attr('d', 'M0,-14L16,13L-16,13Z')
  .attr('transform', d => `translate(${xBot(d[0])},${yBot(d[1])})`)
  .attr('fill', 'none').attr('stroke', '#00ff00').attr('stroke-width', 1.3);
gBot.selectAll('path.down').data(estimateDown).join('path').attr('class', 'down')
  .attr('d', 'M0,14L16,-13L-16,-13Z')
  .attr('transform', d => `translate(${xBot(d[0])},${yBot(d[1])})`)
  .attr('fill', 'none').attr('stroke', '#ff00ff').attr('stroke-width', 1.3);
gBot.selectAll('circle.dot').data(estimateDot).join('circle').attr('class', 'dot')
  .attr('cx', d => xBot(d[0])).attr('cy', d => yBot(d[1])).attr('r', 4.2).attr('fill', '#ff0000');
axes(boxBot, xBot, yBot, quarterTicks, (d, i) => quarterLabels[i], botValueTicks);

// ---- legend ----
const lg = svg.append('g').attr('transform', 'translate(635,507)');
lg.append('rect').attr('width', 324).attr('height', 170).attr('fill', '#fff')
  .attr('stroke', '#000').attr('stroke-width', 1.5);
legendItems.forEach((it, i) => {
  const yy = 31 + i * 54;
  lg.append('line').attr('x1', 16).attr('x2', 98).attr('y1', yy).attr('y2', yy)
    .attr('stroke', it.color).attr('stroke-width', it.width);
  lg.append('text').attr('x', 109).attr('y', yy).attr('dy', '0.35em')
    .attr('font-size', FONT).attr('fill', '#000').text(it.label);
});
</script>
</body>
</html>
